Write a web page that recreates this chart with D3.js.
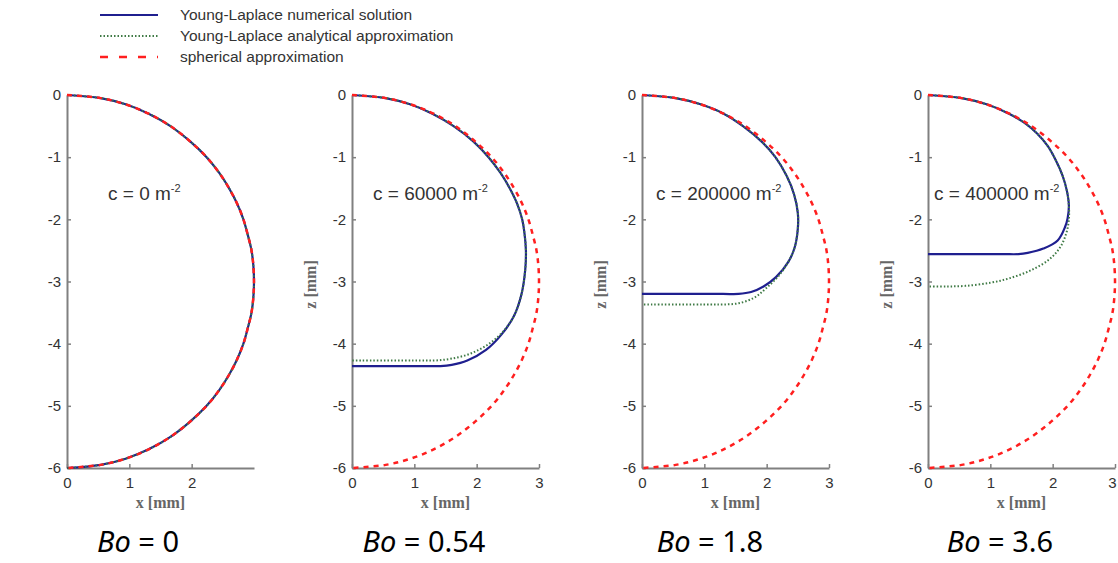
<!DOCTYPE html>
<html>
<head>
<meta charset="utf-8">
<script src="https://cdn.jsdelivr.net/npm/d3@7"></script>
<style>
  body { margin: 0; background: #fff; }
  svg { display: block; }
</style>
</head>
<body>
<div id="chart"></div>
<script>
// Data (x, z in mm)
const bondNumbers = ['0', '0.54', '1.8', '3.6']
const curvatures = ['0', '60000', '200000', '400000']
const xTickValues = [[0, 1, 2], [0, 1, 2, 3], [0, 1, 2, 3], [0, 1, 2, 3]]
const zTickValues = [0, -1, -2, -3, -4, -5, -6]
const legendLabels = ['Young-Laplace numerical solution', 'Young-Laplace analytical approximation', 'spherical approximation']

// spherical approximation (same in every panel)
const sphereX = [0, 0.54, 0.94, 1.31, 1.66, 1.98, 2.24, 2.44, 2.60, 2.73, 2.83, 2.90, 2.96, 2.99, 3.0, 2.99, 2.96, 2.90, 2.83, 2.73, 2.60, 2.44, 2.24, 1.98, 1.66, 1.31, 0.94, 0.54, 0]
const sphereZ = [0, -0.05, -0.15, -0.3, -0.5, -0.75, -1, -1.25, -1.5, -1.75, -2, -2.25, -2.5, -2.75, -3, -3.25, -3.5, -3.75, -4, -4.25, -4.5, -4.75, -5, -5.25, -5.5, -5.7, -5.85, -5.95, -6]

// Bo = 0.54
const numX054 = [0, 0.54, 0.93, 1.29, 1.63, 1.95, 2.19, 2.38, 2.53, 2.65, 2.73, 2.77, 2.79, 2.78, 2.72, 2.60, 2.40, 2.15, 1.85, 1.60, 1.42, 1.2, 0]
const numZ054 = [0, -0.05, -0.15, -0.3, -0.5, -0.75, -1, -1.25, -1.5, -1.75, -2, -2.25, -2.5, -2.8, -3.2, -3.55, -3.85, -4.1, -4.27, -4.34, -4.36, -4.36, -4.36]
const anaX054 = [0, 0.54, 0.93, 1.29, 1.63, 1.95, 2.19, 2.38, 2.53, 2.65, 2.73, 2.77, 2.79, 2.78, 2.72, 2.60, 2.43, 2.2, 1.9, 1.6, 1.35, 1.1, 0]
const anaZ054 = [0, -0.05, -0.15, -0.3, -0.5, -0.75, -1, -1.25, -1.5, -1.75, -2, -2.25, -2.5, -2.8, -3.2, -3.55, -3.8, -4.0, -4.16, -4.24, -4.27, -4.27, -4.27]

// Bo = 1.8
const numX18 = [0, 0.54, 0.94, 1.31, 1.62, 1.92, 2.14, 2.32, 2.44, 2.5, 2.5, 2.45, 2.35, 2.15, 1.95, 1.75, 1.55, 1.3, 0]
const numZ18 = [0, -0.05, -0.15, -0.3, -0.5, -0.75, -1, -1.3, -1.6, -1.9, -2.15, -2.45, -2.68, -2.93, -3.08, -3.17, -3.2, -3.2, -3.2]
const anaX18 = [0, 0.54, 0.94, 1.31, 1.62, 1.92, 2.14, 2.32, 2.44, 2.5, 2.5, 2.45, 2.36, 2.2, 2.0, 1.8, 1.55, 1.3, 1.1, 0]
const anaZ18 = [0, -0.05, -0.15, -0.3, -0.5, -0.75, -1, -1.3, -1.6, -1.9, -2.15, -2.45, -2.66, -2.9, -3.1, -3.26, -3.35, -3.37, -3.37, -3.37]

// Bo = 3.6
const numX36 = [0, 0.54, 0.94, 1.3, 1.55, 1.75, 1.92, 2.05, 2.16, 2.23, 2.26, 2.24, 2.2, 2.08, 1.85, 1.6, 1.45, 1.2, 0]
const numZ36 = [0, -0.05, -0.15, -0.3, -0.45, -0.62, -0.82, -1.05, -1.3, -1.55, -1.78, -1.98, -2.12, -2.34, -2.47, -2.54, -2.56, -2.56, -2.56]
const anaX36 = [0, 0.54, 0.94, 1.3, 1.55, 1.75, 1.92, 2.05, 2.16, 2.23, 2.26, 2.26, 2.22, 2.12, 1.95, 1.65, 1.3, 1.0, 0.6, 0.3, 0]
const anaZ36 = [0, -0.05, -0.15, -0.3, -0.45, -0.62, -0.82, -1.05, -1.3, -1.55, -1.78, -2.0, -2.22, -2.45, -2.64, -2.82, -2.95, -3.02, -3.07, -3.08, -3.08]

const zip = (xs, zs) => xs.map((x, i) => [x, zs[i]])
const sphere = zip(sphereX, sphereZ)
const numerical = [sphere, zip(numX054, numZ054), zip(numX18, numZ18), zip(numX36, numZ36)]
const analytical = [sphere, zip(anaX054, anaZ054), zip(anaX18, anaZ18), zip(anaX36, anaZ36)]

// Presentation
const width = 1118
const height = 563
const colors = { num: '#1f1f8f', ana: '#3f7a45', sph: '#ff1f1f' }
const axisColor = '#808080'
const panelLeft = [67, 352, 642, 928]
const panelWidth = 187
const plotTop = 95
const plotBottom = 468
const sans = 'Liberation Sans, Arial, sans-serif'

const svg = d3.select('#chart').append('svg')
  .attr('width', width)
  .attr('height', height)

// Legend
const legend = svg.append('g').attr('class', 'legend')
const legendStyles = [
  { color: colors.num, dash: null, w: 2.2 },
  { color: colors.ana, dash: '1.5,2', w: 2 },
  { color: colors.sph, dash: '8,11', w: 2.5 }
]
legendLabels.forEach((label, i) => {
  const y = 15 + i * 21
  legend.append('line')
    .attr('x1', 100).attr('x2', 158).attr('y1', y).attr('y2', y)
    .attr('stroke', legendStyles[i].color)
    .attr('stroke-width', legendStyles[i].w)
    .attr('stroke-dasharray', legendStyles[i].dash)
  legend.append('text')
    .attr('x', 180).attr('y', y)
    .attr('dy', '0.35em')
    .style('font', `15.5px ${sans}`)
    .attr('fill', '#333')
    .text(label)
})

// Panels
bondNumbers.forEach((bo, i) => {
  const x0 = panelLeft[i]
  const x = d3.scaleLinear().domain([0, 3]).range([x0, x0 + panelWidth])
  const z = d3.scaleLinear().domain([-6, 0]).range([plotBottom, plotTop])
  const g = svg.append('g').attr('class', `panel panel-${i}`)

  const xAxis = d3.axisBottom(x)
    .tickValues(xTickValues[i])
    .tickFormat(d3.format('d'))
    .tickSizeInner(-4)
    .tickSizeOuter(0)
    .tickPadding(9)
  const zAxis = d3.axisLeft(z)
    .tickValues(zTickValues)
    .tickFormat(d => d === 0 ? '0' : '-' + Math.abs(d))
    .tickSizeInner(-4)
    .tickSizeOuter(0)
    .tickPadding(6)

  const gx = g.append('g').attr('transform', `translate(0,${plotBottom})`).call(xAxis)
  const gz = g.append('g').attr('transform', `translate(${x0},0)`).call(zAxis)
  ;[gx, gz].forEach(a => {
    a.select('.domain').attr('stroke', axisColor).attr('stroke-width', 2)
    a.selectAll('.tick line').attr('stroke', axisColor).attr('stroke-width', 1.5)
    a.selectAll('.tick text').style('font', `15px ${sans}`).attr('fill', '#333')
  })
  // keep the last label of the right-most panel inside the page
  if (i === 3) gx.selectAll('.tick text').filter(d => d === 3).attr('dx', -3)

  // Axis titles
  g.append('text')
    .attr('x', x0 + panelWidth / 2)
    .attr('y', 508)
    .attr('text-anchor', 'middle')
    .style('font', 'bold 16px Liberation Serif, Times New Roman, serif')
    .attr('fill', '#666')
    .text('x [mm]')
  if (i > 0) {
    g.append('text')
      .attr('transform', `translate(${x0 - 36},${(plotTop + plotBottom) / 2 + 3}) rotate(-90)`)
      .attr('text-anchor', 'middle')
      .style('font', 'bold 16px Liberation Serif, Times New Roman, serif')
      .attr('fill', '#666')
      .text('z [mm]')
  }

  // Curves
  const line = d3.line()
    .x(d => x(d[0]))
    .y(d => z(d[1]))
    .curve(d3.curveCatmullRom.alpha(0.5))

  g.append('path')
    .attr('d', line(numerical[i]))
    .attr('fill', 'none')
    .attr('stroke', colors.num)
    .attr('stroke-width', 2.2)
  g.append('path')
    .attr('d', line(analytical[i]))
    .attr('fill', 'none')
    .attr('stroke', colors.ana)
    .attr('stroke-width', 2)
    .attr('stroke-dasharray', '1.5,2')
  g.append('path')
    .attr('d', line(sphere))
    .attr('fill', 'none')
    .attr('stroke', colors.sph)
    .attr('stroke-width', 2.5)
    .attr('stroke-dasharray', '5,5')

  // Curvature annotation
  const ann = g.append('text')
    .attr('x', x0 + [41, 21, 14, 6][i])
    .attr('y', 200)
    .style('font', `19px ${sans}`)
    .attr('fill', '#333')
  ann.append('tspan').text(`c = ${curvatures[i]} m`)
  ann.append('tspan')
    .attr('dy', -8)
    .style('font-size', '11px')
    .text('-2')

  // Bond number label
  const bl = g.append('text')
    .attr('x', x0 + [71, 72, 68, 72][i])
    .attr('y', 552)
    .attr('text-anchor', 'middle')
    .style('font', '29px Noto Sans, Open Sans, sans-serif')
    .attr('fill', '#000')
  bl.append('tspan').style('font-style', 'italic').text('Bo')
  bl.append('tspan').text(` = ${bo}`)
})
</script>
</body>
</html>
